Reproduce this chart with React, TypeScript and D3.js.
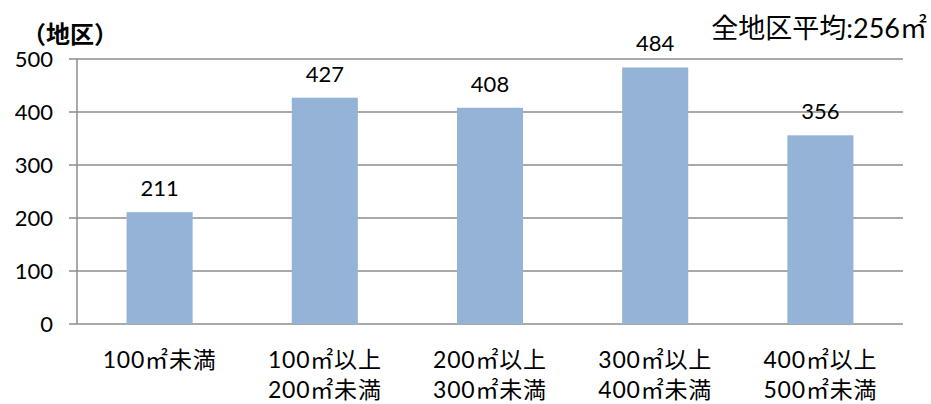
import React from "react";
import * as d3 from "d3";

const categories: string[][] = [
  ["100㎡未満"],
  ["100㎡以上", "200㎡未満"],
  ["200㎡以上", "300㎡未満"],
  ["300㎡以上", "400㎡未満"],
  ["400㎡以上", "500㎡未満"],
];
const values: number[] = [211, 427, 408, 484, 356];
const yTicks: number[] = [0, 100, 200, 300, 400, 500];
const unitLabel = "（地区）";
const averageNote = "全地区平均:256㎡";

const W = 931;
const H = 404;
const margin = { left: 77, right: 28, top: 59, bottom: 80 };
const FONT = "Lato, 'Noto Sans CJK JP', sans-serif";

export default function App() {
  const x = d3
    .scaleBand<number>()
    .domain(values.map((_, i) => i))
    .range([margin.left, W - margin.right])
    .paddingInner(0.6)
    .paddingOuter(0.3);
  const y = d3.scaleLinear().domain([0, 500]).range([H - margin.bottom, margin.top]);
  const grid = "#8c8c8c";

  return (
    <svg
      width={W}
      height={H}
      style={{ position: "absolute", left: 0, top: 0, background: "#fff" }}
      fontFamily={FONT}
    >
      {yTicks.map((t) => (
        <g key={t}>
          <line x1={margin.left - 8} x2={W - margin.right} y1={y(t)} y2={y(t)} stroke={grid} strokeWidth={1.5} />
          <text x={53} y={y(t)} dy="0.36em" textAnchor="end" fontSize={22} fill="#000">
            {t}
          </text>
        </g>
      ))}
      <line x1={margin.left} x2={margin.left} y1={y(500)} y2={y(0)} stroke={grid} strokeWidth={1.5} />
      {values.map((v, i) => (
        <g key={i}>
          <rect x={x(i)} y={y(v)} width={x.bandwidth()} height={y(0) - y(v)} fill="#95b3d7" />
          <text x={(x(i) as number) + x.bandwidth() / 2} y={y(v) - 16} textAnchor="middle" fontSize={22} fill="#000">
            {v}
          </text>
          {categories[i].map((line, j) => (
            <text
              key={j}
              x={(x(i) as number) + x.bandwidth() / 2}
              y={368 + j * 30}
              textAnchor="middle"
              fontSize={23}
              letterSpacing={0.8}
              fill="#000"
            >
              {line}
            </text>
          ))}
        </g>
      ))}
      <text x={22} y={43} fontSize={24} fontWeight="bold" fill="#000">
        {unitLabel}
      </text>
      <text x={927} y={38} textAnchor="end" fontSize={27} fill="#000">
        {averageNote}
      </text>
    </svg>
  );
}
